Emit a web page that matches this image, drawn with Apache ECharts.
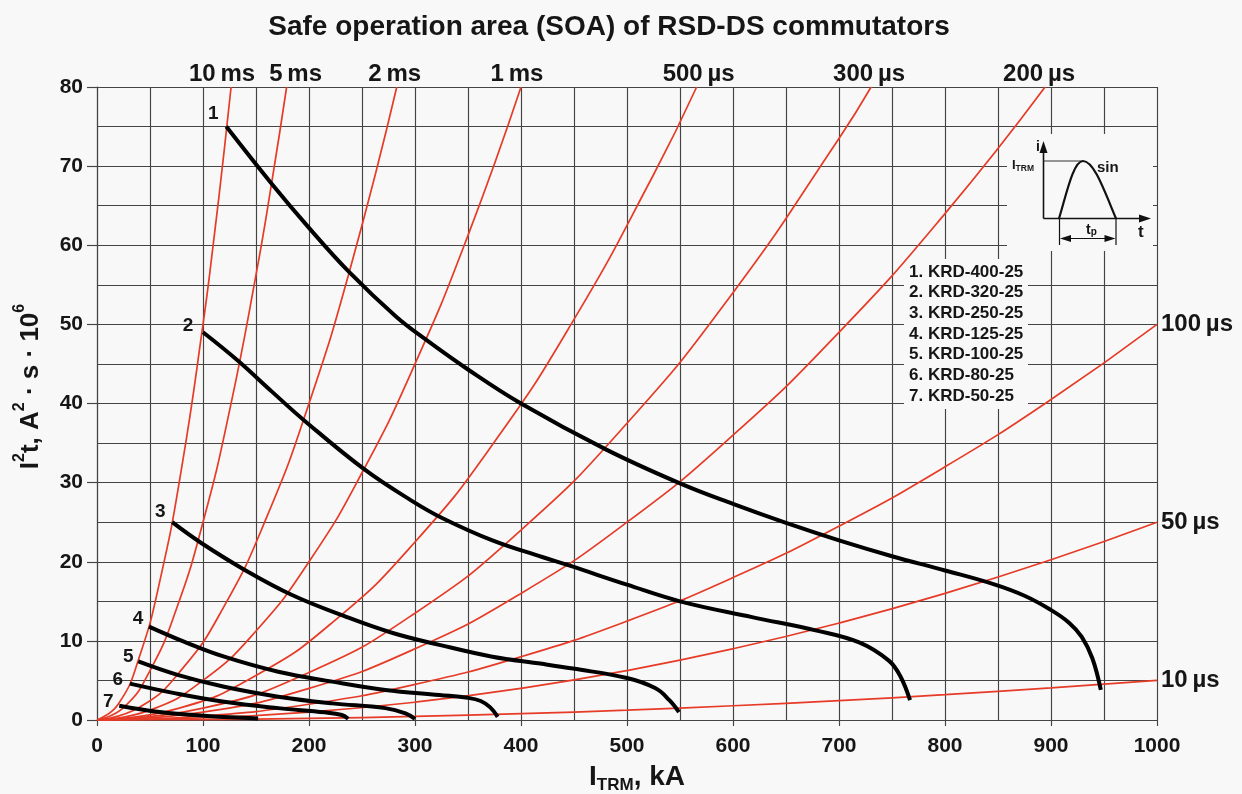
<!DOCTYPE html>
<html>
<head>
<meta charset="utf-8">
<script src="https://cdn.jsdelivr.net/npm/echarts@6/dist/echarts.min.js"></script>
<style>
html,body{margin:0;padding:0;background:#f8f8f8;}
#chart{width:1242px;height:794px;}
</style>
</head>
<body>
<div id="chart"></div>
<script>
// ---------------- data ----------------
const titleText = 'Safe operation area (SOA) of RSD-DS commutators';

// constant-pulse-width lines (I, kA ; I²t, A²·s·10⁶)
const pulseLabels = ['10\u2009ms', '5\u2009ms', '2\u2009ms', '1\u2009ms', '500\u2009µs', '300\u2009µs', '200\u2009µs', '100\u2009µs', '50\u2009µs', '10\u2009µs'];
const pulse10ms  = [[0,0],[20,2],[40,8],[60,18],[80,32],[100,50],[110,60.5],[120,72],[126.5,80]];
const pulse5ms   = [[0,0],[25,1.56],[50,6.25],[75,14.06],[100,25],[125,39.06],[150,56.25],[165,68.06],[178.9,80]];
const pulse2ms   = [[0,0],[40,1.6],[80,6.4],[120,14.4],[160,25.6],[200,40],[240,57.6],[282.8,80]];
const pulse1ms   = [[0,0],[50,1.25],[100,5],[150,11.25],[200,20],[250,31.25],[300,45],[350,61.25],[400,80]];
const pulse500us = [[0,0],[75,1.41],[150,5.63],[225,12.66],[300,22.5],[375,35.16],[450,50.63],[525,68.91],[565.7,80]];
const pulse300us = [[0,0],[100,1.5],[200,6],[300,13.5],[400,24],[500,37.5],[600,54],[700,73.5],[730.3,80]];
const pulse200us = [[0,0],[100,1],[200,4],[300,9],[400,16],[500,25],[600,36],[700,49],[800,64],[894.4,80]];
const pulse100us = [[0,0],[100,0.5],[200,2],[300,4.5],[400,8],[500,12.5],[600,18],[700,24.5],[800,32],[900,40.5],[1000,50]];
const pulse50us  = [[0,0],[100,0.25],[200,1],[300,2.25],[400,4],[500,6.25],[600,9],[700,12.25],[800,16],[900,20.25],[1000,25]];
const pulse10us  = [[0,0],[100,0.05],[200,0.2],[300,0.45],[400,0.8],[500,1.25],[600,1.8],[700,2.45],[800,3.2],[900,4.05],[1000,5]];

// SOA boundary curves of the devices
const deviceNames = ['1. KRD-400-25','2. KRD-320-25','3. KRD-250-25','4. KRD-125-25','5. KRD-100-25','6. KRD-80-25','7. KRD-50-25'];
const deviceNumbers = ['1','2','3','4','5','6','7'];
const curve1 = [[122,75],[164,67.9],[200,62.2],[238,56.6],[282,51],[310,48.1],[350,44.3],[400,40],[480,34.2],[550,29.9],[600,27.3],[650,24.9],[700,22.7],[750,20.7],[800,18.9],[845,17.2],[875,15.7],[900,13.9],[917,12.3],[929,10.5],[939,7.8],[947,3.8]];
const curve2 = [[100,49],[133,45.4],[165,41.5],[196,37.8],[253,31.6],[297,27.7],[326,25.5],[373,22.7],[420,20.6],[446,19.5],[500,17.1],[550,15],[618,13],[679,11.3],[719,9.8],[747,7.5],[758,5.5],[767,2.5]];
const curve3 = [[71,25],[98,22.4],[139,19],[184,15.8],[234,13.1],[279,11],[323,9.5],[373,8],[420,7.1],[449,6.5],[500,5.3],[527,4],[540,2.5],[549,1]];
const curve4 = [[49,11.8],[82,9.9],[120,8],[171,6.1],[222,4.85],[272,3.8],[323,3.16],[350,2.8],[362,2.4],[371,1.6],[378,0.4]];
const curve5 = [[39,7.4],[76,5.7],[120,4.2],[171,2.95],[222,2.1],[272,1.5],[291,0.85],[300,0.15]];
const curve6 = [[31,4.6],[73,3.4],[120,2.3],[171,1.5],[215,0.97],[231,0.63],[237,0.15]];
const curve7 = [[21,1.8],[57,1.05],[104,0.5],[152,0.2]];

// axes
const xMin = 0, xMax = 1000, xStep = 100;
const yMin = 0, yMax = 80, yStep = 10;

// ---------------- styles ----------------
const BG = '#f8f8f8';
const FONT = '"Liberation Sans", Arial, Helvetica, sans-serif';
const RED = '#e63b27';
const GRIDC = '#444444';
const TXT = '#161616';

const pulseData = [pulse10ms, pulse5ms, pulse2ms, pulse1ms, pulse500us, pulse300us, pulse200us, pulse100us, pulse50us, pulse10us];
const pulseLabelPos = ['top','top','top','top','top','top','top','right','right','right'];
const pulseLabelDx  = [-9, 9, -2, -4, 2, -2, -6, 0, 0, 0];
const curveData = [curve1, curve2, curve3, curve4, curve5, curve6, curve7];
const numberOffset = [[-13,-13],[-15,-7],[-12,-10],[-11,-8],[-10,-5],[-12,-4],[-11,-4]];

const series = [];
pulseData.forEach((arr, k) => {
  const last = arr.length - 1;
  series.push({
    type: 'line', name: pulseLabels[k], smooth: 0.5,
    showSymbol: true, showAllSymbol: true, symbol: 'circle', symbolSize: 0,
    lineStyle: {color: RED, width: 1.7}, itemStyle: {color: RED},
    z: 3, silent: true,
    data: arr.map((p, i) => i === last ? {
      value: p,
      label: {
        show: true, formatter: pulseLabels[k], position: pulseLabelPos[k],
        distance: pulseLabelPos[k] === 'top' ? 1 : 4,
        offset: [pulseLabelDx[k], 0],
        fontFamily: FONT, fontWeight: 'bold', fontSize: 24, color: TXT
      }
    } : p)
  });
});
curveData.forEach((arr, k) => {
  series.push({
    type: 'line', name: deviceNames[k], smooth: 0.4,
    showSymbol: true, showAllSymbol: true, symbol: 'circle', symbolSize: 0,
    lineStyle: {color: '#000', width: 4}, itemStyle: {color: '#000'},
    z: 5, silent: true,
    data: arr.map((p, i) => i === 0 ? {
      value: p,
      label: {
        show: true, formatter: deviceNumbers[k], position: 'inside',
        offset: numberOffset[k],
        fontFamily: FONT, fontWeight: 'bold', fontSize: 19, color: TXT
      }
    } : p)
  });
});

// ---------------- graphic decorations (legend box and pulse inset) ----------------
const graphic = [];
graphic.push({type: 'rect', z: 1, shape: {x: 904, y: 259, width: 124, height: 150}, style: {fill: BG}});
deviceNames.forEach((t, i) => {
  graphic.push({type: 'text', z: 10, x: 909, y: 272 + i * 20.7,
    style: {text: t, fontFamily: FONT, fontWeight: 'bold', fontSize: 17, fill: TXT, verticalAlign: 'middle'}});
});
// inset waveform
graphic.push({type: 'rect', z: 1, shape: {x: 1007, y: 134, width: 146, height: 117}, style: {fill: BG}});
const ink = {stroke: '#111', lineWidth: 1.6};
const gz = 10;
graphic.push({type: 'line', z: gz, shape: {x1: 1043.5, y1: 218.5, x2: 1043.5, y2: 150}, style: ink});
graphic.push({type: 'polygon', z: gz, shape: {points: [[1043.5, 141], [1039.5, 153], [1047.5, 153]]}, style: {fill: '#111'}});
graphic.push({type: 'line', z: gz, shape: {x1: 1043.5, y1: 218.5, x2: 1142, y2: 218.5}, style: ink});
graphic.push({type: 'polygon', z: gz, shape: {points: [[1151, 218.5], [1139, 214.5], [1139, 222.5]]}, style: {fill: '#111'}});
graphic.push({type: 'line', z: gz, shape: {x1: 1043.5, y1: 161, x2: 1083, y2: 161}, style: {stroke: '#333', lineWidth: 1}});
graphic.push({type: 'bezierCurve', z: gz, shape: {x1: 1059, y1: 218.5, cpx1: 1066, cpy1: 196, cpx2: 1073, cpy2: 161, x2: 1083, y2: 161}, style: {stroke: '#111', lineWidth: 2.2, fill: null}});
graphic.push({type: 'bezierCurve', z: gz, shape: {x1: 1083, y1: 161, cpx1: 1094, cpy1: 161, cpx2: 1104, cpy2: 190, x2: 1116, y2: 218.5}, style: {stroke: '#111', lineWidth: 2.2, fill: null}});
graphic.push({type: 'line', z: gz, shape: {x1: 1059.5, y1: 218.5, x2: 1059.5, y2: 245}, style: {stroke: '#111', lineWidth: 1.2}});
graphic.push({type: 'line', z: gz, shape: {x1: 1116, y1: 218.5, x2: 1116, y2: 245}, style: {stroke: '#111', lineWidth: 1.2}});
graphic.push({type: 'line', z: gz, shape: {x1: 1068, y1: 238.5, x2: 1108, y2: 238.5}, style: {stroke: '#111', lineWidth: 1.2}});
graphic.push({type: 'polygon', z: gz, shape: {points: [[1060, 238.5], [1071, 235], [1071, 242]]}, style: {fill: '#111'}});
graphic.push({type: 'polygon', z: gz, shape: {points: [[1115.5, 238.5], [1104.5, 235], [1104.5, 242]]}, style: {fill: '#111'}});
graphic.push({type: 'text', z: gz, x: 1036, y: 147, style: {text: 'i', fontFamily: FONT, fontWeight: 'bold', fontSize: 14, fill: TXT, verticalAlign: 'middle'}});
graphic.push({type: 'text', z: gz, x: 1012, y: 166, style: {
  text: '{a|I}{b|TRM}', fill: TXT, verticalAlign: 'middle',
  rich: {a: {fontFamily: FONT, fontWeight: 'bold', fontSize: 13, lineHeight: 14, verticalAlign: 'top'},
         b: {fontFamily: FONT, fontWeight: 'bold', fontSize: 8.5, lineHeight: 10, verticalAlign: 'bottom'}}}});
graphic.push({type: 'text', z: gz, x: 1097, y: 168, style: {text: 'sin', fontFamily: FONT, fontWeight: 'bold', fontSize: 15, fill: TXT, verticalAlign: 'middle'}});
graphic.push({type: 'text', z: gz, x: 1086, y: 230, style: {
  text: '{a|t}{b|p}', fill: TXT, verticalAlign: 'middle',
  rich: {a: {fontFamily: FONT, fontWeight: 'bold', fontSize: 14, lineHeight: 14, verticalAlign: 'top'},
         b: {fontFamily: FONT, fontWeight: 'bold', fontSize: 10, lineHeight: 10, verticalAlign: 'bottom'}}}});
graphic.push({type: 'text', z: gz, x: 1138, y: 232, style: {text: 't', fontFamily: FONT, fontWeight: 'bold', fontSize: 17, fill: TXT, verticalAlign: 'middle'}});

// ---------------- option ----------------
const gridLine = {show: true, lineStyle: {color: GRIDC, width: 1.15}};
const option = {
  backgroundColor: BG,
  animation: false,
  title: {
    text: titleText, left: 604, top: 8, textAlign: 'center',
    textStyle: {fontFamily: FONT, fontWeight: 'bold', fontSize: 28, color: TXT}
  },
  grid: {left: 97, right: 85, top: 87, bottom: 74, containLabel: false, outerBoundsMode: 'none'},
  xAxis: {
    type: 'value', min: xMin, max: xMax, interval: xStep,
    axisLine: {show: true, onZero: false, lineStyle: {color: GRIDC, width: 1.15}},
    axisTick: {show: true, length: 6, lineStyle: {color: GRIDC, width: 1.15}},
    minorTick: {show: false, splitNumber: 2},
    splitLine: gridLine,
    minorSplitLine: gridLine,
    axisLabel: {fontFamily: FONT, fontWeight: 'bold', fontSize: 21, color: TXT, margin: 16, formatter: v => String(v)},
    name: '{a|I}{b|TRM}{a|, kA}', nameLocation: 'middle', nameGap: 41,
    nameTextStyle: {padding: [0, 0, 0, 20], rich: {
      a: {fontFamily: FONT, fontWeight: 'bold', fontSize: 28, color: TXT, lineHeight: 30, verticalAlign: 'bottom'},
      b: {fontFamily: FONT, fontWeight: 'bold', fontSize: 17, color: TXT, lineHeight: 20, verticalAlign: 'bottom', padding: [0, 0, -3, 0]}
    }}
  },
  yAxis: {
    type: 'value', min: yMin, max: yMax, interval: yStep,
    axisLine: {show: true, onZero: false, lineStyle: {color: GRIDC, width: 1.15}},
    axisTick: {show: true, length: 10, lineStyle: {color: GRIDC, width: 1.15}},
    minorTick: {show: false, splitNumber: 2},
    splitLine: gridLine,
    minorSplitLine: gridLine,
    axisLabel: {fontFamily: FONT, fontWeight: 'bold', fontSize: 21, color: TXT, margin: 14},
    name: '{a|I}{s|2}{a|t, A}{s|2}{a| · s · 10}{s|6}', nameLocation: 'middle', nameGap: 53, nameRotate: 90,
    nameTextStyle: {padding: [0, 0, 0, 34], rich: {
      a: {fontFamily: FONT, fontWeight: 'bold', fontSize: 26, color: TXT, lineHeight: 32, verticalAlign: 'bottom'},
      s: {fontFamily: FONT, fontWeight: 'bold', fontSize: 16, color: TXT, lineHeight: 32, verticalAlign: 'top'}
    }}
  },
  graphic: graphic,
  series: series
};

const chart = echarts.init(document.getElementById('chart'), null, {renderer: 'canvas'});
chart.setOption(option);
</script>
</body>
</html>
